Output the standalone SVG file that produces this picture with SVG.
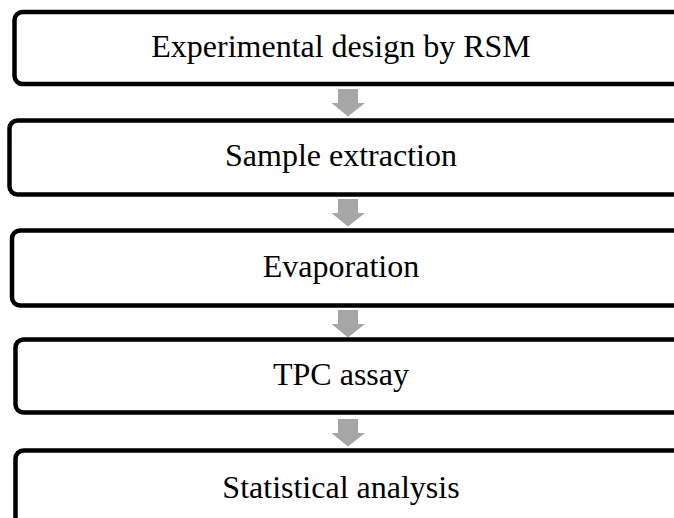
<svg xmlns="http://www.w3.org/2000/svg" xmlns:xlink="http://www.w3.org/1999/xlink" width="674" height="518" viewBox="0 0 674 518">
  <style>
    .box { fill: #ffffff; stroke: #000000; stroke-width: 4.5; }
    .label { font-family: "Liberation Serif", "Times New Roman", serif; font-size: 32px; fill: #000000; text-anchor: middle; }
    .flow { fill: #a6a6a6; }
  </style>
  <defs>
    <!-- block down-arrow, top edge at y=0 -->
    <path id="downArrow" d="M338,0 H358 V14 H365 L348,27.5 L331.5,14 H338 Z"/>
  </defs>
  <rect width="674" height="518" fill="#ffffff"/>

  <g id="connectors">
    <use xlink:href="#downArrow" class="flow" transform="translate(0,89)"/>
    <use xlink:href="#downArrow" class="flow" transform="translate(0,199)"/>
    <use xlink:href="#downArrow" class="flow" transform="translate(0,310)"/>
    <use xlink:href="#downArrow" class="flow" transform="translate(0,419)"/>
  </g>

  <g id="step-design">
    <rect class="box" x="14.5" y="12" width="700" height="72" rx="8"/>
    <text class="label" x="341" y="57">Experimental design by RSM</text>
  </g>
  <g id="step-extraction">
    <rect class="box" x="9.5" y="120.5" width="700" height="74" rx="8"/>
    <text class="label" x="341" y="166">Sample extraction</text>
  </g>
  <g id="step-evaporation">
    <rect class="box" x="12" y="230.5" width="700" height="75" rx="8"/>
    <text class="label" x="341" y="277">Evaporation</text>
  </g>
  <g id="step-tpc">
    <rect class="box" x="15.5" y="339.5" width="700" height="73" rx="8"/>
    <text class="label" x="341" y="385">TPC assay</text>
  </g>
  <g id="step-statistics">
    <rect class="box" x="15.5" y="450.5" width="700" height="76" rx="8"/>
    <text class="label" x="341" y="498">Statistical analysis</text>
  </g>
</svg>
